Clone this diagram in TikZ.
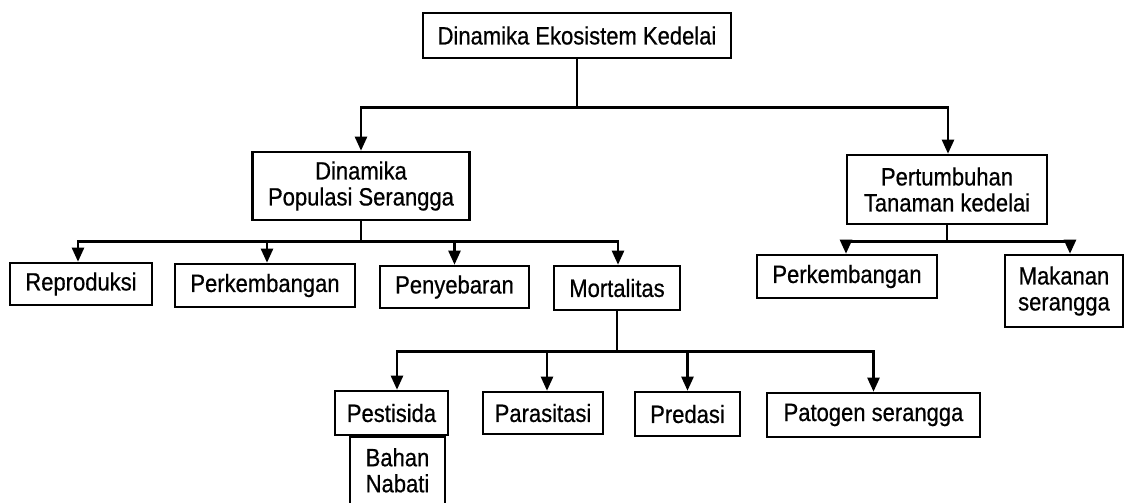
\documentclass[tikz,border=0pt]{standalone}
\usepackage{fontspec}
\setmainfont[FakeStretch=0.88,FakeBold=0.6]{Liberation Sans}
\usetikzlibrary{arrows.meta,calc}
\begin{document}
\begin{tikzpicture}[x=1pt,y=-1pt,
  box/.style={draw, line width=2.6pt, inner sep=0pt, align=center,
    font=\fontsize{25}{26}\selectfont},
  conn/.style={line width=2.4pt},
  arr/.style={line width=2.4pt, -{Triangle[width=12pt,length=14pt]}}]
\useasboundingbox (0,0) rectangle (1124,503);
% nodes
\node[box, minimum width=308pt, minimum height=45pt] (top) at (577,35.5) {Dinamika Ekosistem Kedelai};
\node[box, minimum width=217pt, minimum height=68pt] (pop) at (361,186) {Dinamika\\Populasi Serangga};
\node[box, minimum width=200pt, minimum height=69pt] (tan) at (947,189.5) {Pertumbuhan\\Tanaman kedelai};
\node[box, minimum width=142pt, minimum height=42pt] (rep) at (81,284) {Reproduksi};
\node[box, minimum width=180pt, minimum height=43pt] (perkA) at (265,285.5) {Perkembangan};
\node[box, minimum width=149pt, minimum height=42pt] (peny) at (454.5,287) {Penyebaran};
\node[box, minimum width=126pt, minimum height=44pt] (mort) at (617,288) {Mortalitas};
\node[box, minimum width=180pt, minimum height=43pt] (perkB) at (847,276.5) {Perkembangan};
\node[box, minimum width=118pt, minimum height=72pt] (mak) at (1064,291) {Makanan\\serangga};
\node[box, minimum width=113pt, minimum height=44pt] (pest) at (391.5,413) {Pestisida};
\node[box, minimum width=95pt, minimum height=68pt, anchor=north] (bahan) at (397.5,435) {Bahan\\Nabati};
\node[box, minimum width=120pt, minimum height=42pt] (para) at (543,413) {Parasitasi};
\node[box, minimum width=105pt, minimum height=44pt] (pred) at (687.5,414) {Predasi};
\node[box, minimum width=213pt, minimum height=44pt] (pat) at (873.5,415) {Patogen serangga};
% level 1
\coordinate (b1) at ($(top.south)+(0,48)$);
\draw[conn] (top.south) -- (b1);
\draw[arr] (b1) -| (pop.north);
\draw[arr] (b1) -| ([xshift=1pt]tan.north);
% level 2 left
\coordinate (b2) at ($(pop.south)+(0,20)$);
\draw[conn] (pop.south) -- (b2);
\draw[arr] (b2) -| ([xshift=-3pt]rep.north);
\draw[arr] (b2) -| ([xshift=2pt]perkA.north);
\draw[arr] (b2) -| (peny.north);
\draw[arr] (b2) -| ([xshift=1pt]mort.north);
% level 2 right
\coordinate (b3) at ($(tan.south)+(0,16)$);
\draw[conn] (tan.south) -- (b3);
\draw[arr] (b3) -| ([xshift=-1pt]perkB.north);
\draw[arr] (b3) -| ([xshift=6pt]mak.north);
% level 3
\coordinate (b4) at ($(mort.south)+(0,40)$);
\draw[conn] (mort.south) -- (b4);
\draw[arr] (b4) -| ([xshift=5.5pt]pest.north);
\draw[arr] (b4) -| ([xshift=4pt]para.north);
\draw[arr] (b4) -| (pred.north);
\draw[arr] (b4) -| (pat.north);
\end{tikzpicture}
\end{document}
